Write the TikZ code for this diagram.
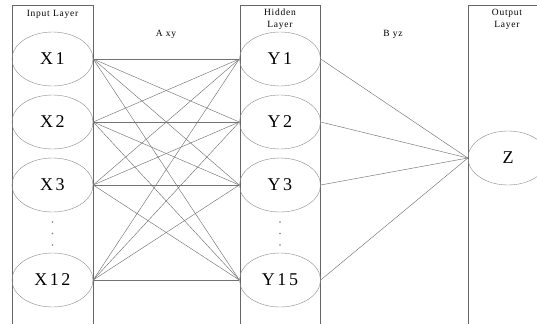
\documentclass[tikz,border=0pt]{standalone}
\usepackage{fontspec}
\setmainfont{Liberation Serif}
\usetikzlibrary{shapes.geometric}

\begin{document}
\begin{tikzpicture}[x=1pt,y=-1pt,
  neuron/.style={draw=gray!90,ellipse,inner sep=0pt,minimum width=81pt,minimum height=54pt,
    font=\fontsize{18}{18}\selectfont\addfontfeature{LetterSpace=14}},
  link/.style={draw=black!55,line width=.45pt},
  layerbox/.style={draw=black!60,line width=.6pt},
  tag/.style={font=\fontsize{9.5}{12}\selectfont\addfontfeature{LetterSpace=8},align=center,inner sep=0pt}]
\useasboundingbox (0,0) rectangle (537,324);
% layer boxes, open at the bottom
\draw[layerbox](12,324)--(12,5)--(93,5)--(93,324);
\draw[layerbox](240,324)--(240,5)--(320,5)--(320,324);
\draw[layerbox](468,324)--(468,5)--(537,5);
\node[tag] (inlab) at (52.5,14){Input Layer};
\node[tag] (hidlab) at (280,19.5){Hidden\\Layer};
\node[tag] (outlab) at (507,19.5){Output\\Layer};
\node[tag] (axy) at (166,34){A xy};
\node[tag] (byz) at (393,34){B yz};
% neurons
\foreach \i/\y in {1/59,2/122,3/185,12/280}
  \node[neuron] (x\i) at (52.5,\y){X\i};
\foreach \j/\y in {1/59,2/122,3/185,15/280}
  \node[neuron] (y\j) at (280,\y){Y\j};
\node[neuron,minimum width=80pt] (z) at (508,158){Z};
\foreach \d in {222,233.5,245}{
  \fill[gray](52.5,\d)circle(.8);
  \fill[gray](280,\d)circle(.8);
}
% weights
\foreach \i in {1,2,3,12}
  \foreach \j in {1,2,3,15}
    \draw[link](x\i.east)--(y\j.west);
\foreach \j in {1,2,3,15}
  \draw[link](y\j.east)--(z.west);
\end{tikzpicture}
\end{document}
